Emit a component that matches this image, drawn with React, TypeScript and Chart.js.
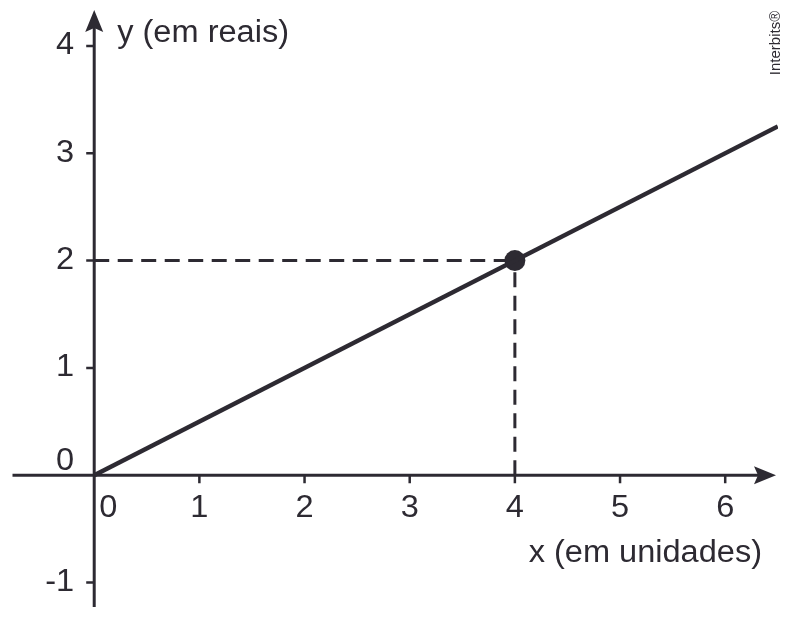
import React, { useEffect, useRef } from "react";
import { Chart, registerables } from "chart.js";

Chart.register(...registerables);

const lineX: number[] = [0, 6.5];
const lineY: number[] = [0, 3.25];
const pointX: number[] = [4];
const pointY: number[] = [2];
const xTicks: number[] = [0, 1, 2, 3, 4, 5, 6];
const yTicks: number[] = [-1, 0, 1, 2, 3, 4];
const xTitle = "x (em unidades)";
const yTitle = "y (em reais)";
const credit = "Interbits®";

const INK = "#2d2a32";
const FONT = "'Liberation Sans', Arial, sans-serif";

function drawText(ctx: CanvasRenderingContext2D, text: string, x: number, y: number, align: CanvasTextAlign, size: number, sx = 1.05) {
  ctx.save();
  ctx.font = `${size}px ${FONT}`;
  ctx.textBaseline = "middle";
  ctx.textAlign = align;
  ctx.translate(x, y);
  ctx.scale(sx, 1);
  ctx.fillText(text, 0, 0);
  ctx.restore();
}

const axesPlugin = {
  id: "customAxes",
  beforeDatasetsDraw(chart: any) {
    const ctx: CanvasRenderingContext2D = chart.ctx;
    const xs = chart.scales.x;
    const ys = chart.scales.y;
    const x0 = xs.getPixelForValue(0);
    const y0 = ys.getPixelForValue(0);
    const { left, right, top, bottom } = chart.chartArea;
    ctx.save();
    ctx.strokeStyle = INK;
    ctx.fillStyle = INK;
    ctx.lineWidth = 3;
    // dashed guides
    const px = xs.getPixelForValue(pointX[0]);
    const py = ys.getPixelForValue(pointY[0]);
    ctx.setLineDash([15, 8.5]);
    ctx.beginPath();
    ctx.moveTo(x0, py);
    ctx.lineTo(px, py);
    ctx.moveTo(px, y0);
    ctx.lineTo(px, py);
    ctx.stroke();
    ctx.setLineDash([]);
    // x axis
    ctx.beginPath();
    ctx.moveTo(left + 2, y0);
    ctx.lineTo(right - 10, y0);
    ctx.stroke();
    ctx.beginPath();
    ctx.moveTo(right - 2, y0);
    ctx.lineTo(right - 24, y0 - 9);
    ctx.lineTo(right - 20, y0);
    ctx.lineTo(right - 24, y0 + 9);
    ctx.closePath();
    ctx.fill();
    // y axis
    ctx.beginPath();
    ctx.moveTo(x0, bottom);
    ctx.lineTo(x0, top + 10);
    ctx.stroke();
    ctx.beginPath();
    ctx.moveTo(x0, top - 3);
    ctx.lineTo(x0 - 9, top + 19);
    ctx.lineTo(x0, top + 15);
    ctx.lineTo(x0 + 9, top + 19);
    ctx.closePath();
    ctx.fill();
    // ticks
    ctx.lineWidth = 2.5;
    ctx.beginPath();
    xTicks.forEach((v) => {
      if (v === 0) return;
      const p = xs.getPixelForValue(v);
      ctx.moveTo(p, y0);
      ctx.lineTo(p, y0 + 8);
    });
    yTicks.forEach((v) => {
      if (v === 0) return;
      const p = ys.getPixelForValue(v);
      ctx.moveTo(x0 - 8, p);
      ctx.lineTo(x0, p);
    });
    ctx.stroke();
    // tick labels
    xTicks.forEach((v) => {
      const p = xs.getPixelForValue(v);
      drawText(ctx, String(v), v === 0 ? p + 14 : p, y0 + 33, "center", 31);
    });
    yTicks.forEach((v) => {
      const p = ys.getPixelForValue(v);
      drawText(ctx, String(v), x0 - 20, v === 0 ? p - 14 : p, "right", 31);
    });
    // titles
    drawText(ctx, yTitle, x0 + 23, ys.getPixelForValue(4) - 12, "left", 31);
    drawText(ctx, xTitle, xs.getPixelForValue(6.35), y0 + 78, "right", 31);
    // credit
    ctx.save();
    ctx.translate(776, 43);
    ctx.rotate(-Math.PI / 2);
    ctx.font = `15px ${FONT}`;
    ctx.textAlign = "center";
    ctx.textBaseline = "middle";
    ctx.fillText(credit, 0, 0);
    ctx.restore();
    ctx.restore();
  },
};

export default function App() {
  const ref = useRef<HTMLCanvasElement | null>(null);
  useEffect(() => {
    if (!ref.current) return;
    const chart = new Chart(ref.current, {
      type: "scatter",
      data: {
        datasets: [
          {
            data: lineX.map((x, i) => ({ x, y: lineY[i] })),
            showLine: true,
            borderColor: INK,
            borderWidth: 4.5,
            pointRadius: 0,
          },
          {
            data: pointX.map((x, i) => ({ x, y: pointY[i] })),
            pointRadius: 10.5,
            pointBackgroundColor: INK,
            pointBorderColor: INK,
            pointBorderWidth: 0,
          },
        ],
      },
      options: {
        animation: false,
        responsive: false,
        maintainAspectRatio: false,
        devicePixelRatio: 1,
        layout: { padding: { left: 8, right: 27, top: 13, bottom: 14 } },
        plugins: { legend: { display: false }, tooltip: { enabled: false } },
        scales: {
          x: { type: "linear", min: -0.796, max: 6.502, display: false },
          y: { type: "linear", min: -1.228, max: 4.307, display: false },
        },
      },
      plugins: [axesPlugin],
    });
    return () => chart.destroy();
  }, []);
  return (
    <div style={{ position: "fixed", left: 0, top: 0, width: 805, height: 621, background: "#fff" }}>
      <canvas ref={ref} width={805} height={621} style={{ width: 805, height: 621 }} />
    </div>
  );
}
